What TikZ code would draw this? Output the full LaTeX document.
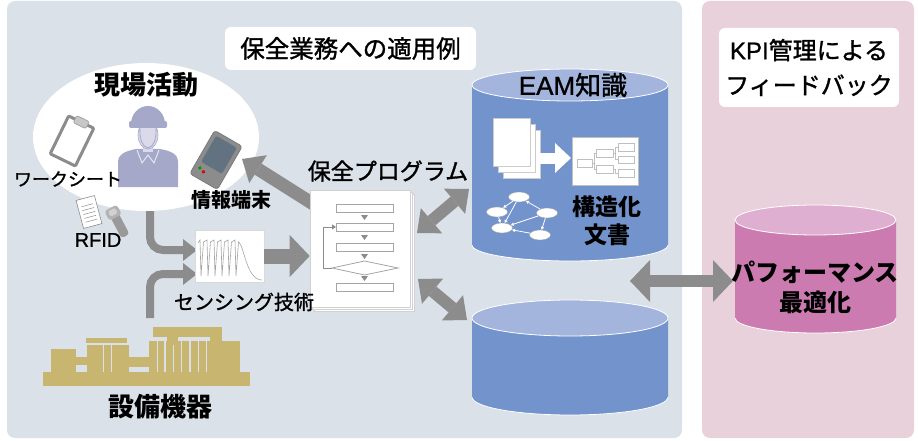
\documentclass[tikz,border=0pt]{standalone}
\usepackage{fontspec}
\setmainfont{Noto Sans CJK JP}
\newfontfamily\labelfont{Noto Sans CJK JP}[FakeBold=1.3]
\newfontfamily\latinfont{Liberation Sans}[FakeBold=1]
\usetikzlibrary{arrows.meta,shapes.geometric}

\definecolor{panelblue}{RGB}{219,225,232}
\definecolor{panelpink}{RGB}{232,209,219}
\definecolor{arrowgray}{RGB}{140,140,140}
\definecolor{dbbody}{RGB}{114,147,203}
\definecolor{dbtop}{RGB}{163,181,221}
\definecolor{kpibody}{RGB}{204,123,176}
\definecolor{kpitop}{RGB}{222,175,209}
\definecolor{plant}{RGB}{200,181,112}
\definecolor{worker}{RGB}{165,168,200}
\definecolor{workerface}{RGB}{218,218,234}
\definecolor{devgray}{RGB}{140,140,140}
\definecolor{devscreen}{RGB}{98,114,128}
\definecolor{lineg}{RGB}{165,165,165}

\tikzset{
  HeadL/.tip={Triangle[width=42pt,length=20pt,line width=0pt]},
  HeadM/.tip={Triangle[width=33pt,length=19pt,line width=0pt]},
  HeadS/.tip={Triangle[width=22pt,length=14pt,line width=0pt]},
  HeadT/.tip={Triangle[width=3.5pt,length=3pt,line width=0pt]},
  txt/.style={inner sep=0pt, text=black, font=\labelfont\fontsize{#1}{#1}\selectfont},
  btxt/.style={inner sep=0pt, text=black, font=\fontsize{#1}{#1}\selectfont\bfseries},
  fat/.style={draw=arrowgray, line width=#1},
  whitebox/.style={fill=white, rounded corners=6pt, inner sep=0pt},
  page/.style={fill=white, draw=black!18, line width=0.6pt},
  flowbox/.style={fill=white, draw=lineg, line width=0.8pt},
  treebox/.style={fill=white, draw=black!25, line width=0.5pt},
  netnode/.style={ellipse, fill=white, draw=black!35, line width=0.4pt,
                  minimum width=21pt, minimum height=10pt, inner sep=0pt},
  netlink/.style={white, line width=0.8pt, -{HeadT}},
}

% cylinder: centre x, top y, bottom y, x radius, y radius, body colour, lid colour
\newcommand\mkcyl[7]{%
  \fill[#6] (#1-#4,#2) -- (#1-#4,#3)
    arc[start angle=180,end angle=0,x radius=#4,y radius=#5] -- (#1+#4,#2) -- cycle;
  \draw[white, line width=0.8pt] (#1-#4,#3)
    arc[start angle=180,end angle=0,x radius=#4,y radius=#5];
  \filldraw[fill=#7, draw=white, line width=0.8pt] (#1,#2) ellipse [x radius=#4, y radius=#5];
}

\begin{document}
\begin{tikzpicture}[x=1pt,y=-1pt]
\useasboundingbox (0,0) rectangle (918,441);
\fill[white] (0,0) rectangle (918,441);

% panels
\fill[panelblue, rounded corners=8pt] (7,1) rectangle (682,438);
\fill[panelpink, rounded corners=8pt] (702,1) rectangle (914,438);

% panel headings
\node[whitebox, minimum width=251pt, minimum height=43pt, font=\labelfont\fontsize{24.5}{24.5}\selectfont]
  (maint) at (350.5,48.5) {保全業務への適用例};
\node[whitebox, minimum width=180pt, minimum height=79pt, align=center,
      font=\labelfont\fontsize{24}{35}\selectfont]
  (kpi) at (809,67.5) {{\latinfont KPI}管理による\\フィードバック};

% anchors of the bent feeds into the sensor chart
\coordinate (fieldout) at (150,195);
\coordinate (plantout) at (150,318);
\coordinate (sensin1) at (197,250);
\coordinate (sensin2) at (197,274);

\draw[fat=8pt, rounded corners=13pt, -{HeadS}] (fieldout) |- (sensin1);
\draw[fat=8pt, rounded corners=13pt, -{HeadS}] (plantout) |- (sensin2);

% field activity bubble
\node[ellipse, fill=white, minimum width=226pt, minimum height=148pt, inner sep=0pt]
  (field) at (146,137) {};
\node[btxt=26] (fieldlbl) at (146,85) {現場活動};

% worker
\fill[worker] (118,187) -- (118,162) .. controls (118,154) and (126,151) .. (136,149)
  -- (160,149) .. controls (171,151) and (178,154) .. (178,162) -- (178,187) -- cycle;
\fill[workerface] (143,142) rectangle (153,152);
\draw[white!70!worker, line width=1pt] (137,150) -- (142,163) -- (148,155) -- (154,163) -- (159,150);
\filldraw[fill=workerface, draw=worker, line width=0.6pt] (148,135) ellipse [x radius=10, y radius=14];
\draw[worker, line width=0.8pt] (140,126) .. controls (139,140) and (143,147) .. (148,148)
  .. controls (153,147) and (157,140) .. (156,126);
\fill[worker] (131,124) arc[start angle=180,end angle=360,x radius=17,y radius=18] -- cycle;
\fill[worker, rounded corners=2pt] (129,121) rectangle (167,128);

% clipboard
\begin{scope}[shift={(72,141)}, rotate=-26]
  \filldraw[fill=white, draw=devgray, line width=3pt, rounded corners=1pt] (-14,-21) rectangle (14,21);
  \filldraw[fill=black!22, draw=black!40, line width=0.6pt, rounded corners=2pt] (-7,-25) rectangle (7,-17);
\end{scope}
\node[txt=18] (sheet) at (68,179) {ワークシート};

% handheld terminal
\begin{scope}[shift={(216,160)}, rotate=-30]
  \filldraw[fill=devgray, draw=black!55, line width=0.6pt, rounded corners=3pt] (-16,-25) rectangle (16,25);
  \fill[devscreen, rounded corners=2pt] (-12,-21) rectangle (12,9);
  \fill[green!60!black] (-10,15) circle (1.9);
  \fill[red!85!black] (-5,16.5) circle (1.9);
  \foreach \bx/\by in {5/14,9.5/14,5/18.5,9.5/18.5} \fill[black!45] (\bx,\by) circle (1.1);
\end{scope}
\node[btxt=20] (term) at (231,200) {情報端末};

% RFID tag sheet and reader
\begin{scope}[shift={(89,212)}, rotate=15]
  \filldraw[fill=white, draw=black!45, line width=0.6pt] (-9.5,-14.5) rectangle (9.5,14.5);
  \foreach \ly in {-7,-3,1,5,9} \draw[black!45, line width=0.5pt] (-6,\ly) -- (6,\ly);
\end{scope}
\begin{scope}[shift={(118,222)}, rotate=28]
  \fill[black!40, rounded corners=3pt] (-4.5,-8) rectangle (4.5,16);
  \fill[black!30, rounded corners=3pt] (-7,-16) rectangle (7,-5);
  \fill[black!18, rounded corners=2pt] (-4,-14) rectangle (4,-8);
\end{scope}
\node[inner sep=0pt, font=\latinfont\fontsize{20}{20}\selectfont] (rfid) at (98,240) {RFID};

% sensing
\node[fill=white, draw=black!15, line width=0.6pt, minimum width=69pt, minimum height=52pt, inner sep=0pt]
  (sensor) at (229.5,256) {};
\draw[lineg, line width=0.6pt] (198,243)
  \foreach \i in {0,...,5} { -- ({200+7*\i},240) -- ({201+7*\i},276) -- ({203.5+7*\i},242) }
  .. controls (244,244) and (246,280) .. (262,280);

% plant equipment
\fill[plant] (43,372) rectangle (250,386);
\fill[plant] (51,349) rectangle (76,372);
\fill[plant] (75,357) rectangle (87,365);
\fill[plant] (86,338) rectangle (127,343);
\fill[plant] (87,345) rectangle (129,372);
\fill[plant] (128,357) rectangle (150,367);
\fill[plant] (153,327) rectangle (222,337);
\fill[plant] (149,341) rectangle (240,372);
\fill[plant] (167,336) rectangle (178,342);
\fill[plant] (210,336) rectangle (222,342);
\foreach \gx in {103.5,111.7} \draw[panelblue, line width=1.4pt] (\gx,345) -- (\gx,371.5);
\foreach \gx in {157.3,165,181.7,190,198.3,206.7} \draw[panelblue, line width=1.4pt] (\gx,341) -- (\gx,371.5);
\draw[panelblue, line width=1.4pt] (173.3,345) -- (173.3,371.5);
\node[btxt=26] (plantlbl) at (160,407) {設備機器};

% knowledge bases
\mkcyl{570}{85}{245}{98}{16}{dbbody}{dbtop}
\mkcyl{570}{318}{397}{98}{18}{dbbody}{dbtop}
\mkcyl{815.5}{220}{318}{80.5}{15}{kpibody}{kpitop}
\node[txt=26] (eamlbl) at (573,85) {{\latinfont EAM}知識};
\node[btxt=23, align=center, font=\fontsize{23}{28}\selectfont\bfseries] (structlbl) at (607,221) {構造化\\文書};
\node[btxt=24, align=center, font=\fontsize{24}{30}\selectfont\bfseries] (perflbl) at (815,287) {パフォーマンス\\最適化};

% raw documents turned into a structured one
\filldraw[fill=white, draw=black!20, line width=0.4pt] (503,130) rectangle (540,178);
\filldraw[fill=white, draw=black!20, line width=0.4pt] (498,124) rectangle (535,172);
\filldraw[fill=white, draw=black!20, line width=0.4pt] (493,118) rectangle (530,166);
\fill[white] (540,152.5) rectangle (556,163.5);
\fill[white] (555,143) -- (571,158) -- (555,173) -- cycle;
\node[fill=white, draw=black!25, line width=0.5pt, minimum width=66pt, minimum height=48pt, inner sep=0pt]
  (structdoc) at (605,161) {};
\draw[treebox] (577,159) rectangle (592,167);
\draw[treebox] (596,149) rectangle (613,157);
\draw[treebox] (596,165) rectangle (613,173);
\draw[treebox] (618,143) rectangle (634,151);
\draw[treebox] (618,156) rectangle (634,163);
\draw[treebox] (618,169) rectangle (634,177);
\draw[black!25, line width=0.5pt] (592,163) -- (594,163) -- (594,153) -- (596,153)
  (594,163) -- (594,169) -- (596,169)
  (613,153) -- (615,153) -- (615,147) -- (618,147)
  (615,153) -- (615,159.5) -- (618,159.5)
  (613,169) -- (615,169) -- (615,173) -- (618,173);

% concept network
\node[netnode] (n1) at (519,197) {};
\node[netnode] (n2) at (497,212) {};
\node[netnode] (n3) at (547,213) {};
\node[netnode] (n4) at (502,228) {};
\node[netnode] (n5) at (540,235) {};
\draw[netlink] (n1) -- (n2);
\draw[netlink] (n3) -- (n1);
\draw[netlink] (n1) -- (n4);
\draw[netlink] (n2) -- (n4);
\draw[netlink] (n3) -- (n4);
\draw[netlink] (n3) -- (n5);
\draw[netlink] (n5) -- (n4);

% maintenance program links
\coordinate (progout) at (318,207);
\coordinate (termin) at (242,159);
\coordinate (upA) at (417,233);
\coordinate (upB) at (469,189);
\coordinate (loA) at (418,279);
\coordinate (loB) at (467,320);
\coordinate (kA) at (630,281);
\coordinate (kB) at (733,281);
\draw[fat=13pt, -{HeadM}] (progout) -- (termin);
\draw[fat=12pt, {HeadM}-{HeadM}] (upA) -- (upB);
\draw[fat=12pt, {HeadM}-{HeadM}] (loA) -- (loB);
\draw[fat=12pt, {HeadL}-{HeadL}] (kA) -- (kB);

% maintenance program sheets
\draw[page] (314,194) rectangle (414,311);
\draw[page] (312,192) rectangle (412,309);
\node[page, minimum width=100pt, minimum height=117pt, inner sep=0pt] (prog) at (360,248.5) {};
\draw[fat=15pt, -{HeadL}] (sensor.east) -- (prog.west |- sensor.east);
\node[txt=23] (proglbl) at (388,171) {保全プログラム};
\node[txt=20] (senslbl) at (244,302) {センシング技術};

% flowchart on the sheet
\draw[flowbox] (336,204) rectangle (393,212);
\draw[flowbox] (336,223) rectangle (393,231);
\draw[flowbox] (336,243) rectangle (393,251);
\draw[flowbox] (332,268) -- (364.5,261) -- (398,268) -- (364.5,275) -- cycle;
\draw[flowbox] (336,283) rectangle (393,291);
\foreach \ty in {215,235,254,276}
  \fill[black!45] (361,\ty) -- (368,\ty) -- (364.5,\ty+5) -- cycle;
\draw[black!45, line width=0.8pt, -{Triangle[width=5pt,length=4pt]}] (332,268) -- (323,268) -- (323,227) -- (336,227);
\end{tikzpicture}
\end{document}
